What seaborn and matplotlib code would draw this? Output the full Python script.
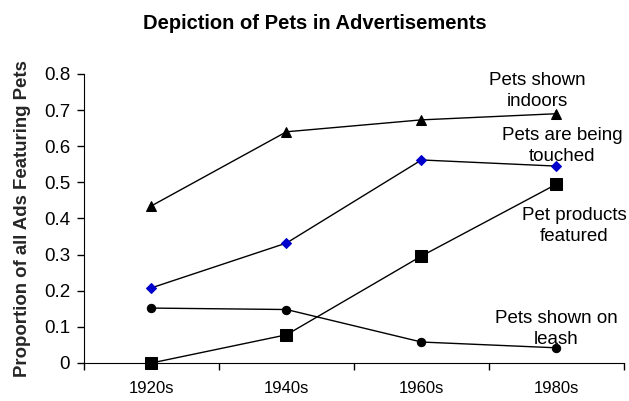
import pandas as pd
import seaborn as sns
import matplotlib.pyplot as plt
from matplotlib.ticker import FixedLocator

decades = ["1920s", "1940s", "1960s", "1980s"]
indoors = [0.435, 0.64, 0.673, 0.69]
touched = [0.208, 0.332, 0.562, 0.545]
leash = [0.152, 0.148, 0.058, 0.042]
products = [0.0, 0.078, 0.296, 0.495]

series = [
    (indoors, "^", "black", 7),
    (touched, "D", "#0000CC", 5),
    (leash, "o", "black", 6),
    (products, "s", "black", 8),
]

sns.set_style("ticks")
plt.rcParams["font.family"] = ["Liberation Sans", "DejaVu Sans"]
plt.rcParams["text.color"] = "black"
plt.rcParams["xtick.color"] = "black"
plt.rcParams["ytick.color"] = "black"
plt.rcParams["axes.edgecolor"] = "black"

fig = plt.figure(figsize=(6.29, 4.01), dpi=100)
ax = fig.add_axes([0.1335, 0.0948, 0.8585, 0.7207])

for vals, mk, col, ms in series:
    df = pd.DataFrame({"decade": decades, "value": vals})
    sns.lineplot(data=df, x="decade", y="value", ax=ax, color="black",
                 linewidth=1, marker=mk, markersize=ms,
                 markerfacecolor=col, markeredgecolor=col, clip_on=False)

# labels next to line ends
lab = dict(ha="center", va="center", fontsize=13.5, linespacing=1.3)
ax.text(2.856, 0.752, "Pets shown\nindoors", **lab)
ax.text(3.04, 0.6, "Pets are being\ntouched", **lab)
ax.text(3.13, 0.38, "Pet products\nfeatured", **lab)
ax.text(3.0, 0.095, "Pets shown on\nleash", **lab)

ax.set_xlim(-0.5, 3.5)
ax.set_ylim(0, 0.8)
ax.set_yticks([0, 0.1, 0.2, 0.3, 0.4, 0.5, 0.6, 0.7, 0.8])
ax.set_yticklabels(["0", "0.1", "0.2", "0.3", "0.4", "0.5", "0.6", "0.7", "0.8"], fontsize=13.5)
ax.set_xticks(range(4))
ax.set_xticklabels(decades, fontsize=12)
ax.tick_params(axis="x", which="major", length=0, pad=13)
ax.xaxis.set_minor_locator(FixedLocator([-0.5, 0.5, 1.5, 2.5, 3.5]))
ax.tick_params(axis="x", which="minor", length=5, direction="out", width=1)
ax.tick_params(axis="y", length=5, width=1, pad=5)
ax.set_xlabel("")
ax.set_ylabel("Proportion of all Ads Featuring Pets", fontsize=13.4, fontweight="bold", labelpad=9)
sns.despine(ax=ax, top=True, right=True)

fig.suptitle("Depiction of Pets in Advertisements", fontsize=14.5, fontweight="bold", x=0.5, y=0.965)

fig.savefig("out.png", dpi=100)
